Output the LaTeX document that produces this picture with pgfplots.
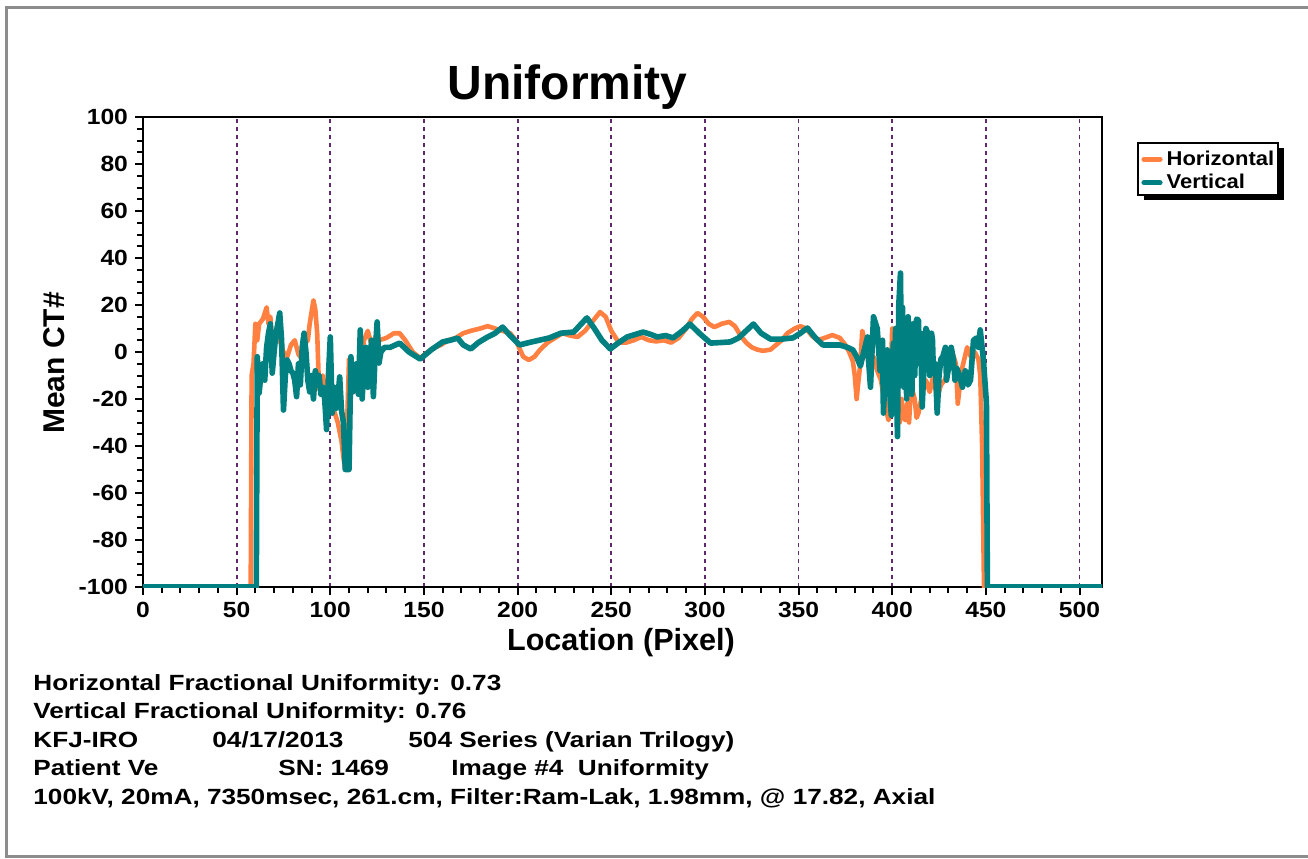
\documentclass[border=0pt]{standalone}
\usepackage{fontspec}
\setmainfont{Liberation Sans}
\newfontfamily\infofont[FakeStretch=1.19]{Liberation Sans}
\newfontfamily\legfont[FakeStretch=1.1]{Liberation Sans}
\newfontfamily\tickfont[FakeStretch=1.12]{Liberation Sans}
\usepackage{pgfplots}
\pgfplotsset{compat=1.18}
\definecolor{hcol}{RGB}{255,128,64}
\definecolor{vcol}{RGB}{0,128,128}
\definecolor{gridc}{RGB}{96,40,110}
\definecolor{framec}{RGB}{140,140,140}
\begin{document}
\begin{tikzpicture}
\path[use as bounding box] (0,0) rectangle (654pt,429pt);
\fill[white] (0,0) rectangle (654pt,429pt);
\draw[framec, line width=1.6pt] (700pt,0.75pt) -- (3.35pt,0.75pt) -- (3.35pt,425.2pt) -- (700pt,425.2pt);
% legend frame and shadow
\fill[black] (572pt,329pt) rectangle (642pt,355pt);
\draw[black, fill=white, line width=0.8pt] (569pt,331.5pt) rectangle (639pt,357.5pt);
\begin{axis}[
  at={(71.5pt,135.5pt)}, anchor=south west,
  width=479.5pt, height=235pt, scale only axis,
  xmin=0, xmax=512, ymin=-100, ymax=100,
  xtick={0,50,...,500}, ytick={-100,-80,...,100},
  minor x tick num=4, minor y tick num=3,
  xtick pos=lower, ytick pos=lower,
  tick align=outside,
  major tick length=4pt, minor tick length=3pt,
  tick style={black, line width=1pt},
  axis line style={black, line width=1pt},
  xmajorgrids=true,
  major grid style={gridc, line width=0.9pt, dash pattern=on 2pt off 2pt},
  /pgf/number format/assume math mode=true,
  /pgf/number format/1000 sep={},
  tick label style={font=\tickfont\bfseries\fontsize{11}{13}\selectfont},
  legend style={at={(axis description cs:1.0407,0.8851)}, anchor=west,
    draw=none, fill=none, inner sep=0pt,
    font=\legfont\bfseries\fontsize{10}{12}\selectfont,
    row sep=-1pt},
  legend cell align=left,
  legend image code/.code={\draw[#1, line width=2.6pt, line cap=round] (0pt,0pt) -- (8pt,0pt);},
]
\addplot[hcol, line width=2.3pt, line join=round] table {
x y
0 -100
57.5 -100
58 -10
59 -5
60 12
61 5
62 12
64 14
66 19
67 12
68 15
69 2
70 8
72 10
73 5
75 0
77 -2
79 3
81 5
83 -1
85 -3
86 3
88 5
89 12
91 22
92 18
93 8
94 -16
96 -10
98 -20
100 -18
102 -25
104 -30
106 -38
107 -45
108 -50
109 -30
110 -3
112 -8
114 -17
116 -5
118 5
120 9
122 3
124 6
126 5
130 6
134 8
137 8
140 5
144 0
148 -2.6
152 0
156 2
159 3
163 5
167 6
171 8
175 9
180 10
184 11
188 10
192 9
196 8
199 5
203 -2
206 -3.4
209 -2
212 1
216 4
220 6
224 8
228 7
232 6.4
236 9
240 13
244 17
247 15
250 9
254 4
258 4
262 5
266 6.4
270 5
274 4.5
278 5
282 4
286 6
290 10
293 14
296 16.6
299 15
302 12
305 10.6
309 12
313 12.8
316 11
319 7
322 4
325 2
328 1
331 0.5
335 1
338 3
341 5
344 8
348 10
351 11
354 10
357 7
360 5
364 6
368 7.2
372 6
375 3
377 0
379 -4
380 -10
381 -20
382 -12
383 -5
384 9
386 2
388 -8
390 -2
392 -8
394 -12
396 -22
398 -29
399 -15
400 10
401 -5
402 -25
403 -17
404 -30
405 -20
406 -28
407 -29
408 -22
409 -30
410 -14
412 -20
413 -28
414 -26
416 -18
418 -12
420 -17
422 -10
424 -20
426 -14
428 -12
430 -8
432 0
434 -5
435 -22
437 -8
440 2
442 -2
444 0
446 -3
447 -10
448 -40
449 -100
512 -100
};
\addlegendentry{Horizontal}
\addplot[vcol, line width=2.8pt, line join=round] table {
x y
0 -100
60.5 -100
61 -2
62 -17.5
63 -9
64 -5
65 -12
66 2
67 8
68 12
69 -9
70 0
71 8
72 12
73 16.6
74 5
75 -24.7
76 -10
77 -3.4
78 -5
79 -8
80 -9
81 -12
82 -19
83 -5
84 -14
85 2
86 8
87 0
88 -12
89 -17
90 -10
91 -20
92 -8
93 -12
94 -10
95 -18
96 -15
97 -20
98 -33
99 -10
100 6.4
101 -26
102 -15
103 -24
104 -20
105 -10.6
106 -25
107 -30
108 -50
110 -50
111 -2
112 -17
113 -8
114 -5
115 -18
116 9.4
117 -20
118 -5
119 2
120 -15
121 -10
122 5
123 -19
124 0
125 12.8
126 -4.7
127 0
129 2
132 2
137 3.8
142 0
148 -3
154 1
160 4.3
164 5
168 5.9
171 3
175 1.3
179 4
184 6.4
188 8
192 10.6
196 7
201 3
206 4
212 5.1
217 6
223 8
230 8.5
234 12
237 14.5
241 10
245 5
249.5 1.3
254 4
258.5 6.4
263 7.5
267 8.5
271 7.5
274.6 6.4
279 7
283 6
288 9
292 11.9
297 8
303 3.8
308 4
313.6 4.3
318 6
322 9
325.9 11.9
330 8
335 5.5
341 5.5
347 6
351 8
354.7 10.2
359 6
363 3
368 3
372 3
376 2
379 0.9
381 -2
383 -6
384.8 0
386.8 6.4
387.5 -5
388.4 -15
389.2 0
390 15
392 10
393.5 -8
394.8 5
395.3 -26
396.5 -5
397.4 0.9
398.5 -15
399.5 -27
400.6 3.8
401.2 -20
401.8 10
402.8 -36
403.5 20
404.4 33.6
405 -10
405.5 19
406.2 -15
407 12
407.7 -20
408.5 15
409.2 -8
409.7 9.4
410.5 -18
411.2 12
412 -10
413 14
414 13.6
414.5 -5
415.2 8
416 -23.4
417 -5
418 10
419 8
420 -10
421 8
421.5 5
422 -9
423 -5
424 -26
425 -10
426 -3
427 -2
428.4 2
429 -12
430 -7
431.5 2
432.7 -3.4
433.5 -12
434.5 -7
436 -10
437.5 -15
439 -8
440.5 -14
441.8 -12
443.4 5
445 6
446 2
447 9.4
448.7 -3.4
450.3 -21.7
450.8 -100
512 -100
};
\addlegendentry{Vertical}
\end{axis}
\node[anchor=base, font=\bfseries\fontsize{24}{28}\selectfont, inner sep=0pt] at (283.75pt,379pt) {Uniformity};
\node[anchor=base, font=\bfseries\fontsize{15.3}{18}\selectfont, inner sep=0pt] at (310.5pt,103.5pt) {Location (Pixel)};
\node[anchor=base, rotate=90, font=\bfseries\fontsize{15}{18}\selectfont, inner sep=0pt] at (32pt,247.5pt) {Mean CT\#};
\begin{scope}[every node/.style={anchor=base west, inner sep=0pt, font=\infofont\bfseries\fontsize{11}{13}\selectfont}]
\node at (16.5pt,84pt) {Horizontal Fractional Uniformity: 0.73};
\node at (16.5pt,69.75pt) {Vertical Fractional Uniformity: 0.76};
\node at (16.5pt,55.5pt) {KFJ-IRO};
\node at (106pt,55.5pt) {04/17/2013};
\node at (204pt,55.5pt) {504 Series (Varian Trilogy)};
\node at (16.5pt,41.25pt) {Patient Ve};
\node at (139pt,41.25pt) {SN: 1469};
\node at (225.5pt,41.25pt) {Image \#4\ \ Uniformity};
\node at (16.5pt,27pt) {100kV, 20mA, 7350msec, 261.cm, Filter:Ram-Lak, 1.98mm, @ 17.82, Axial};
\end{scope}
\end{tikzpicture}
\end{document}
